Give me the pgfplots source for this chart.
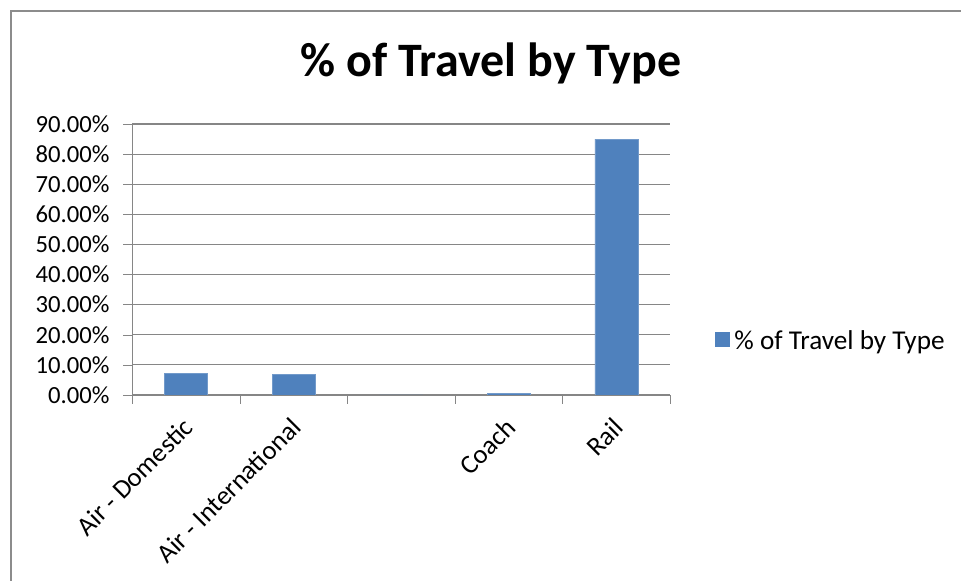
\documentclass[border=0pt]{standalone}
\usepackage{pgfplots}
\pgfplotsset{compat=1.18}
\usepackage{fontspec}
\setmainfont{Carlito}
\definecolor{barblue}{HTML}{4F81BD}
\definecolor{gridgray}{HTML}{868686}
\definecolor{framegray}{HTML}{8C8C8C}

% one pixel of the chart area
\newlength{\px}
\setlength{\px}{0.75pt}

\begin{document}
\begin{tikzpicture}[x=\px,y=\px]
  % canvas and chart frame
  \path[use as bounding box] (0,0) rectangle (961,581);
  \draw[framegray, line width=2\px] (11,0) -- (11,570) -- (961,570);

  \node[font=\fontsize{36}{40}\selectfont\bfseries, anchor=center] at (491,518) {\% of Travel by Type};

  \begin{axis}[
    at={(99.2pt,139.5pt)}, anchor=south west,
    scale only axis,
    width=538\px, height=271\px,
    xmin=-0.5, xmax=4.5,
    ymin=0, ymax=90,
    ytick={0,10,...,90},
    xtick={0,1,2,3,4},
    xticklabels={Air - Domestic, Air - International, {}, Coach, Rail},
    minor xtick={-0.5,0.5,1.5,2.5,3.5,4.5},
    major x tick style={draw=none},
    minor tick length=9\px,
    major tick length=9\px,
    tick align=outside,
    tick pos=left,
    axis line style={gridgray},
    every tick/.style={gridgray},
    axis x line*=bottom,
    axis y line*=left,
    ymajorgrids,
    grid style={gridgray, line width=0.8pt},
    y axis line style={gridgray},
    yticklabel={\pgfmathprintnumber[fixed,fixed zerofill,precision=2]{\tick}\%},
    /pgf/number format/assume math mode=true,
    ticklabel style={text=black},
    yticklabel style={font=\fontsize{18.5}{20}\selectfont, xshift=-9\px},
    xticklabel style={font=\fontsize{20}{22}\selectfont, rotate=45,
      anchor=north east, xshift=-7\px, yshift=-1\px},
    ybar, bar width=0.4,
    legend style={at={(1.075,0.199)}, anchor=west, draw=none,
      font=\fontsize{20.4}{22}\selectfont, legend cell align=left},
    legend image code/.code={\fill[barblue] (0,-5.5\px) rectangle (14\px,8.5\px);},
    legend style={nodes={inner xsep=5\px}},
  ]
    \addplot[fill=barblue, draw=barblue!80!white] coordinates
      {(0,7.3) (1,6.9) (2,0) (3,0.56) (4,85.0)};
    \addlegendentry{\% of Travel by Type}
  \end{axis}
\end{tikzpicture}
\end{document}
